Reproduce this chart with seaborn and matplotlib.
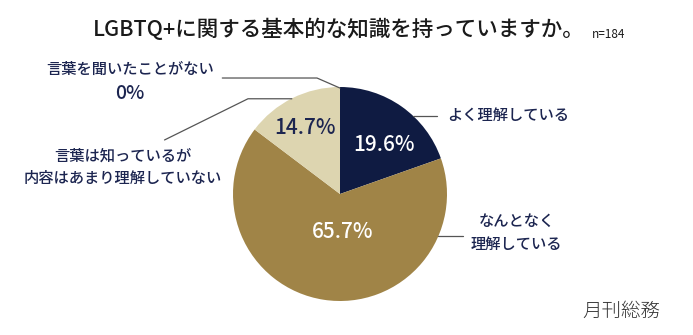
import numpy as np
import matplotlib
matplotlib.use("Agg")
import matplotlib.pyplot as plt
import seaborn as sns

# ---- data ----
categories = ["よく理解している", "なんとなく\n理解している",
              "言葉は知っているが\n内容はあまり理解していない", "言葉を聞いたことがない"]
values = [19.6, 65.7, 14.7, 0.0]
pct_labels = ["19.6%", "65.7%", "14.7%", "0%"]
title = "LGBTQ+に関する基本的な知識を持っていますか。"
note = "n=184"
source = "月刊総務"

sns.set_theme(style="white")
plt.rcParams['font.family'] = ['Noto Sans CJK JP', 'DejaVu Sans']

palette = sns.color_palette(["#0f1b42", "#a08447", "#ddd5b0", "#c8c8c8"])
navy_text = "#1c2550"

W, H = 693, 335
fig = plt.figure(figsize=(W / 100, H / 100), dpi=100)
cx, cy, r = 340, 194, 107
ax = fig.add_axes([(cx - r) / W, (H - cy - r) / H, 2 * r / W, 2 * r / H])

wedges, _ = ax.pie(values, colors=palette, startangle=90, counterclock=False,
                   radius=1, wedgeprops=dict(linewidth=0))
ax.set_xlim(-1, 1)
ax.set_ylim(-1, 1)
ax.set_aspect('equal')
ax.axis('off')

# in-slice percent labels
inside_pos = [(0.41, 0.46), (0.02, -0.355), (-0.33, 0.62)]
inside_col = ["white", "white", navy_text]
for (x, y), lab, c in zip(inside_pos, pct_labels[:3], inside_col):
    ax.text(x, y, lab, ha='center', va='center', fontsize=15, color=c,
            fontweight='medium')

line_kw = dict(color="#555555", lw=0.9, clip_on=False)
lab_kw = dict(fontsize=11, color=navy_text, clip_on=False, fontweight='medium')

# よく理解している
ax.plot([0.683, 0.907], [0.73, 0.73], **line_kw)
ax.text(1.0, 0.73, categories[0], ha='left', va='center', **lab_kw)

# なんとなく理解している
ax.plot([0.92, 1.15], [-0.39, -0.39], **line_kw)
ax.text(1.65, -0.36, categories[1], ha='center', va='center',
        linespacing=1.45, **lab_kw)

# 言葉は知っているが...
ax.plot([-0.45, -0.86, -1.64], [0.89, 0.89, 0.505], **line_kw)
ax.text(-2.03, 0.25, categories[2], ha='center', va='center',
        linespacing=1.45, **lab_kw)

# 言葉を聞いたことがない
ax.plot([0.0, -0.215, -1.10], [0.99, 1.084, 1.084], **line_kw)
ax.text(-1.96, 1.16, categories[3], ha='center', va='center', **lab_kw)
ax.text(-1.96, 0.94, pct_labels[3], ha='center', va='center', fontsize=14,
        color=navy_text, clip_on=False, fontweight='medium')

fig.text(93 / W, 1 - 30 / H, title, ha='left', va='center', fontsize=15.5,
         color="#1a1a1a", fontweight='medium')
fig.text(592 / W, 1 - 35 / H, note, ha='left', va='center', fontsize=8.5,
         color="#1a1a1a")
fig.text(621 / W, 1 - 311 / H, source, ha='center', va='center', fontsize=14,
         color="#333333", fontweight='light')

fig.savefig("out.png", dpi=100, facecolor="white")
